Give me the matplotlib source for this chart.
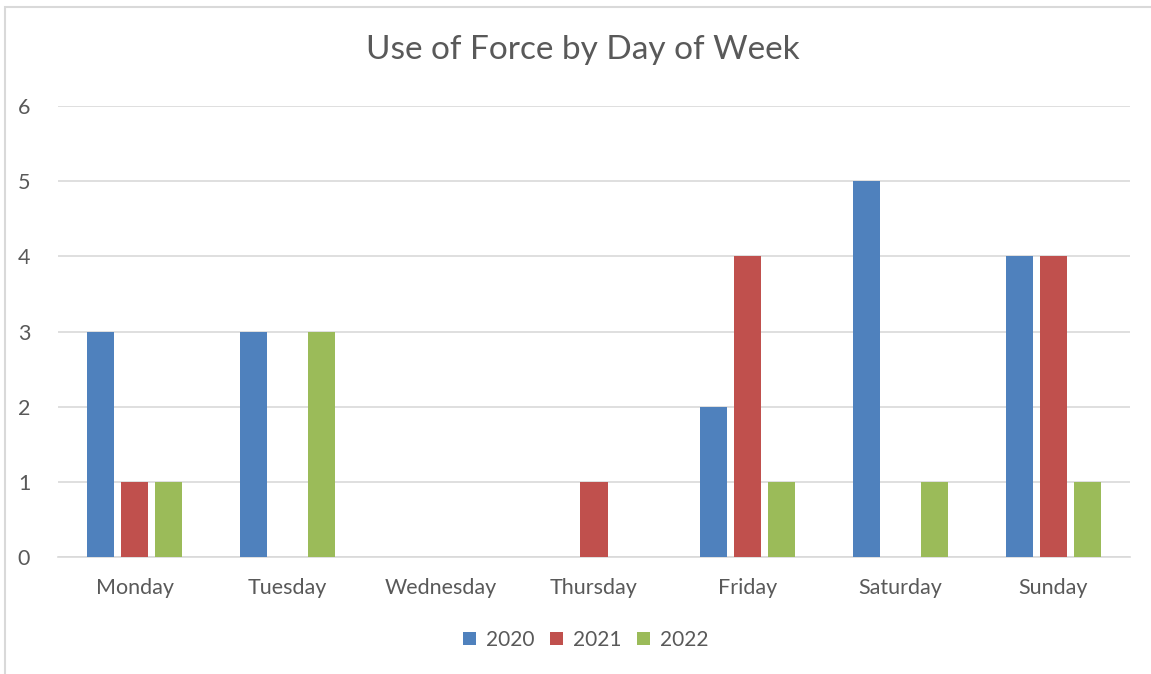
import matplotlib.pyplot as plt
from matplotlib.patches import Rectangle
import numpy as np

days = ['Monday', 'Tuesday', 'Wednesday', 'Thursday', 'Friday', 'Saturday', 'Sunday']
y2020 = [3, 3, 0, 0, 2, 5, 4]
y2021 = [1, 0, 0, 1, 4, 0, 4]
y2022 = [1, 3, 0, 0, 1, 1, 1]

series = [('2020', y2020, '#4F81BD'), ('2021', y2021, '#C0504D'), ('2022', y2022, '#9BBB59')]

plt.rcParams['font.family'] = ['Lato', 'DejaVu Sans']
text_col = '#595959'
grid_col = '#d9d9d9'

fig = plt.figure(figsize=(11.51, 6.74), dpi=100)
ax = fig.add_axes([58 / 1151, 1 - 557 / 674, 1072 / 1151, 451 / 674])

# outer chart border (partly cut off at right/bottom like the reference)
fig.patches.append(Rectangle((5 / 1151, -0.1), 1.2, 1 - 7 / 674 + 0.1, transform=fig.transFigure,
                             fill=False, edgecolor=grid_col, linewidth=1.5))

x = np.arange(len(days))
w = 0.177
step = 0.222
for i, (name, vals, col) in enumerate(series):
    ax.bar(x + (i - 1) * step, vals, width=w, color=col, label=name, zorder=3)

ax.set_xlim(-0.5, len(days) - 0.5)
ax.set_ylim(0, 6)
ax.set_yticks(range(0, 7))
ax.set_xticks(x)
ax.set_xticklabels(days)
ax.yaxis.grid(True, color=grid_col, linewidth=1.2)
ax.set_axisbelow(True)
for s in ['top', 'right', 'left']:
    ax.spines[s].set_visible(False)
ax.spines['bottom'].set_color(grid_col)
ax.spines['bottom'].set_linewidth(1.2)
ax.tick_params(axis='both', length=0, colors=text_col, labelsize=15.5)
ax.tick_params(axis='y', pad=20)
ax.tick_params(axis='x', pad=15)

fig.text(583 / 1151, 1 - 50 / 674, 'Use of Force by Day of Week', ha='center', va='center',
         fontsize=24, color=text_col)

leg = fig.legend(loc='center', bbox_to_anchor=(586 / 1151, 1 - 640 / 674), ncol=3, frameon=False,
                 handlelength=0.6, handleheight=0.6, handletextpad=0.5, columnspacing=0.75,
                 fontsize=15)
for t in leg.get_texts():
    t.set_color(text_col)

fig.savefig('out.png', dpi=100)
